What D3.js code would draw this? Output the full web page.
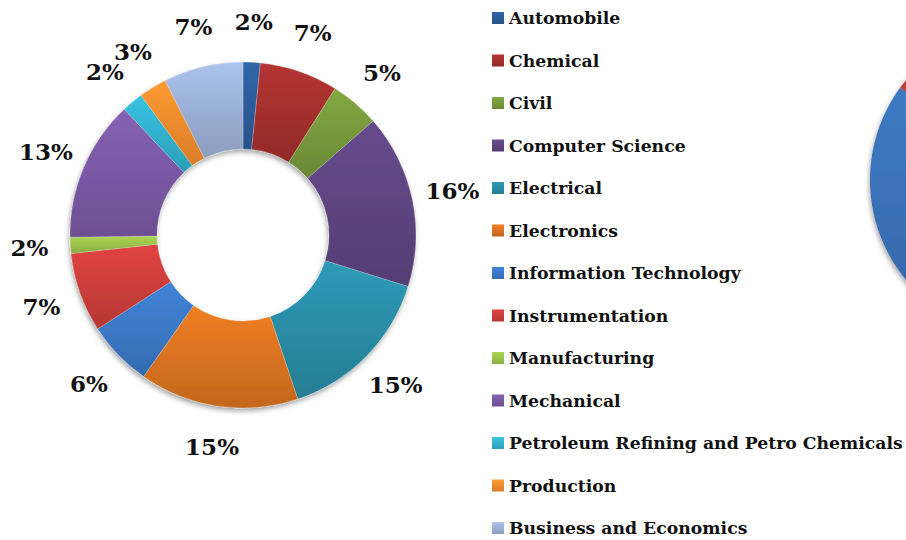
<!DOCTYPE html>
<html>
<head>
<meta charset="utf-8">
<script src="https://cdn.jsdelivr.net/npm/d3@7"></script>
<style>
  body { margin: 0; background: #fff; }
  svg { display: block; }
</style>
</head>
<body>
<div id="chart"></div>
<script>
// Branch shares (percent)
const branches = ["Automobile", "Chemical", "Civil", "Computer Science", "Electrical",
    "Electronics", "Information Technology", "Instrumentation", "Manufacturing",
    "Mechanical", "Petroleum Refining and Petro Chemicals", "Production", "Business and Economics"];
const shares = [1.6, 7.3, 4.6, 16.2, 15.0, 14.8, 6.1, 7.4, 1.5, 13.1, 2.0, 2.6, 7.4];
const colors = ["#2c5d9a", "#a5302d", "#789a3c", "#5e4581", "#2a8ea7", "#dc7421",
    "#3b79c6", "#cd3e3b", "#9cc44c", "#7b59a5", "#33b2d0", "#f68e2e", "#9db2d8"];

// Second pie, cut off at the right edge of the picture
const sideParts = ["A", "B"];
const sideValues = [85, 15];
const sideColors = ["#3b74bb", "#c0403b"];

const width = 906, height = 540;

const svg = d3.select("#chart").append("svg")
    .attr("width", width)
    .attr("height", height);

const defs = svg.append("defs");

// Soft shadow like the office chart
const shadow = defs.append("filter").attr("id", "shadow")
    .attr("x", "-20%").attr("y", "-20%").attr("width", "140%").attr("height", "140%");
shadow.append("feDropShadow")
    .attr("dx", -1).attr("dy", 3).attr("stdDeviation", 2.5)
    .attr("flood-color", "#000").attr("flood-opacity", 0.35);

// One vertical gradient per colour
function gradient(id, c) {
    let g = defs.append("linearGradient").attr("id", id)
        .attr("x1", 0).attr("y1", 0).attr("x2", 0).attr("y2", 1);
    g.append("stop").attr("offset", "0%").attr("stop-color", d3.color(c).brighter(0.25));
    g.append("stop").attr("offset", "100%").attr("stop-color", d3.color(c).darker(0.35));
    return "url(#" + id + ")";
}
const fills = colors.map((c, i) => gradient("g" + i, c));
const sideFills = sideColors.map((c, i) => gradient("s" + i, c));

// Side pie
const sidePie = d3.pie().sort(null).value(d => d)(sideValues);
const sideArc = d3.arc().innerRadius(0).outerRadius(157);
svg.append("g")
    .attr("transform", "translate(1027,180)")
    .attr("filter", "url(#shadow)")
    .selectAll("path")
    .data(sidePie)
    .join("path")
    .attr("d", sideArc)
    .attr("fill", (d, i) => sideFills[i]);

// Donut
const cx = 243, cy = 235;
const outer = 173, inner = 86, labelR = 214;
const total = d3.sum(shares);
const pie = d3.pie().sort(null).value(d => d);
const arcs = pie(shares);
const arc = d3.arc().innerRadius(inner).outerRadius(outer);
const pct = d3.format(".0%");

const donut = svg.append("g").attr("transform", `translate(${cx},${cy})`);

donut.append("g")
    .attr("filter", "url(#shadow)")
    .selectAll("path")
    .data(arcs)
    .join("path")
    .attr("d", arc)
    .attr("fill", (d, i) => fills[i])
    .attr("stroke", "#fff")
    .attr("stroke-opacity", 0.35)
    .attr("stroke-width", 0.6);

// Percent labels around the ring, nudged apart where they collide
let labels = donut.append("g")
    .selectAll("text")
    .data(arcs)
    .join("text")
    .attr("text-anchor", "middle")
    .attr("dy", "0.36em")
    .attr("font-family", "'DejaVu Serif', serif")
    .attr("font-weight", "bold")
    .attr("font-size", 23)
    .attr("fill", "#111")
    .text(d => pct(d.value / total));

let boxes = [];
labels.each(function(d) {
    boxes.push({a: (d.startAngle + d.endAngle) / 2, w: this.getComputedTextLength(), h: 18});
});
let pos = b => [labelR * Math.sin(b.a), -labelR * Math.cos(b.a)];
for (let k = 0; k < 200; k++) {
    for (let i = 0; i < boxes.length; i++) {
        let p = boxes[i], q = boxes[(i + 1) % boxes.length];
        let [x1, y1] = pos(p), [x2, y2] = pos(q);
        if (Math.abs(x1 - x2) < (p.w + q.w) / 2 + 2 && Math.abs(y1 - y2) < (p.h + q.h) / 2 + 2) {
            p.a -= 0.004;
            q.a += 0.004;
        }
    }
}
labels.attr("transform", (d, i) => `translate(${pos(boxes[i])})`);

// Legend
const legendY = d3.scalePoint()
    .domain(branches)
    .range([18, 528]);

const legend = svg.append("g")
    .attr("font-family", "'DejaVu Serif', serif")
    .attr("font-weight", "bold")
    .attr("font-size", 18)
    .selectAll("g")
    .data(branches)
    .join("g")
    .attr("transform", d => `translate(492,${legendY(d)})`);

legend.append("rect")
    .attr("y", -6)
    .attr("width", 12)
    .attr("height", 12)
    .attr("fill", (d, i) => fills[i]);

let legendText = legend.append("text")
    .attr("x", 17)
    .attr("dy", "0.36em")
    .attr("fill", "#111")
    .text(d => d);

// shrink the legend type so the longest name ends where it does in the original
let longest = d3.max(legendText.nodes(), n => n.getComputedTextLength());
legendText.attr("font-size", 18 * 394 / longest);
</script>
</body>
</html>
